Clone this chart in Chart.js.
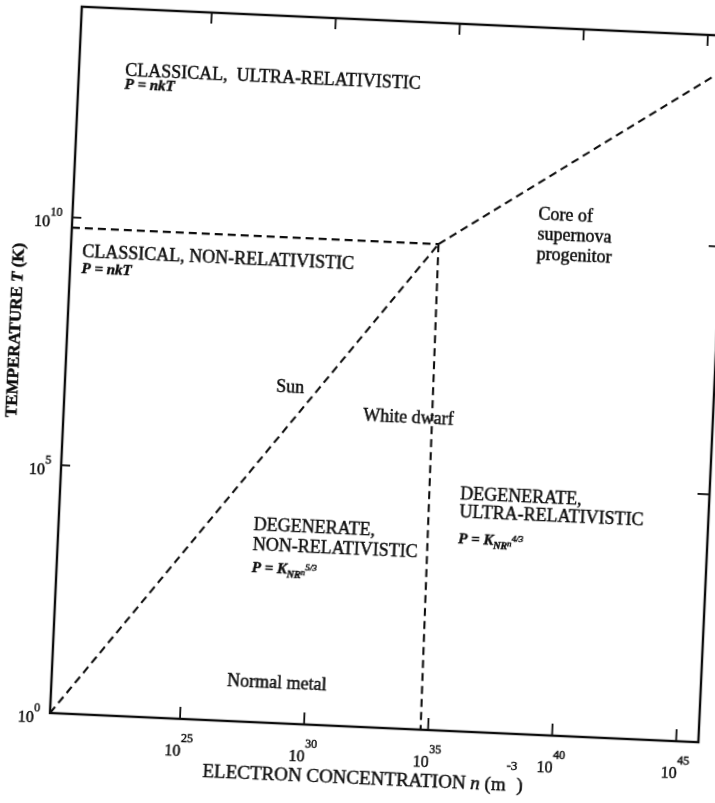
<!DOCTYPE html>
<html>
<head>
<meta charset="utf-8">
<script src="https://cdn.jsdelivr.net/npm/chart.js@4.4.1/dist/chart.umd.min.js"></script>
<style>
  html, body { margin: 0; padding: 0; background: #fff; width: 715px; height: 803px; overflow: hidden; }
  #sheet { position: absolute; left: -20px; top: 0; width: 739px; height: 807px;
           transform-origin: 70px 713px; transform: rotate(2.58deg); }
  canvas { display: block; }
</style>
</head>
<body>
<div id="sheet"><canvas id="chart" width="739" height="807"></canvas></div>
<script>
// Axis ranges: electron concentration n (m^-3) and temperature T (K)
const densityMin = 5.75e19;
const densityMax = 7.9e45;
const tempMin = 1;
const tempMax = 1.78e14;

// Tick values and the exponents printed under them
const densityTicks = [1e25, 1e30, 1e35, 1e40, 1e45];
const densityTickPowers = ['25', '30', '35', '40', '45'];
const tempTicks = [1, 1e5, 1e10];
const tempTickPowers = ['0', '5', '10'];

// Regime boundaries (n in m^-3, T in K)
const relativisticN = [5.75e19, 3.47e34];   // kT = mc^2
const relativisticT = [6.2e9, 6.2e9];
const degenerateNrN = [5.75e19, 3.47e34];   // through the Sun
const degenerateNrT = [1, 6.2e9];
const fermiMomentumN = [3.47e34, 5.0e34];   // p_F = mc, through white dwarfs
const fermiMomentumT = [6.2e9, 1];
const degenerateUrN = [3.47e34, 7.9e45];    // towards supernova cores
const degenerateUrT = [6.2e9, 4.2e13];

const INK = '#0d0d0d';
const SERIF = '"Liberation Serif", "Times New Roman", serif';
const font = (style, size) => `${style} ${size}px ${SERIF}`;

const capsFont = font('normal', 18);
const wordFont = font('normal', 18);
const eqFont = font('bold italic', 15);
const eqSub = font('bold italic', 10);
const eqSmall = font('italic', 9);

const eqNkT = [{ text: 'P = nkT', font: eqFont }];
const eqK = (pow) => [
  { text: 'P = K', font: eqFont },
  { text: 'NR', font: eqSub, rise: -4 },
  { text: 'n', font: eqSmall, rise: -1 },
  { text: pow, font: eqSmall, rise: 4 }
];
const plain = (text, f) => [{ text, font: f || capsFont }];

// Region and object labels, anchored at the first line's baseline (data coordinates)
const notes = [
  { n: 4.2e21, T: 7.9e12, rows: [[0, plain('CLASSICAL,  ULTRA-RELATIVISTIC')], [13, eqNkT]] },
  { n: 1.67e20, T: 1.62e9, rows: [[0, plain('CLASSICAL, NON-RELATIVISTIC')], [16, eqNkT]] },
  { n: 1.86e28, T: 4.7e6, rows: [[0, plain('Sun', wordFont)]] },
  { n: 6.7e31, T: 1.46e6, rows: [[0, plain('White dwarf', wordFont)]] },
  { n: 3.2e38, T: 2.45e10, rows: [[0, plain('Core of', wordFont)], [20, plain('supernova', wordFont)], [40, plain('progenitor', wordFont)]] },
  { n: 4.1e27, T: 7.3e3, rows: [[0, plain('DEGENERATE,')], [20, plain('NON-RELATIVISTIC')], [42, eqK('5/3')]] },
  { n: 7.4e35, T: 4.8e4, rows: [[0, plain('DEGENERATE,')], [18, plain('ULTRA-RELATIVISTIC')], [44, eqK('4/3')]] },
  { n: 6.8e26, T: 5.1, rows: [[0, plain('Normal metal', wordFont)]] }
];

// Draws a row of text runs (with raised/lowered pieces), slightly inked for a printed look
function drawRuns(ctx, x, y, runs, align) {
  let total = 0;
  runs.forEach(r => { ctx.font = r.font; r.w = ctx.measureText(r.text).width; total += r.w; });
  let cx = align === 'right' ? x - total : align === 'center' ? x - total / 2 : x;
  ctx.textAlign = 'left';
  ctx.textBaseline = 'alphabetic';
  ctx.lineWidth = 0.45;
  runs.forEach(r => {
    ctx.font = r.font;
    ctx.fillText(r.text, cx, y - (r.rise || 0));
    ctx.strokeText(r.text, cx, y - (r.rise || 0));
    cx += r.w;
  });
}

function power(exp, rise) {
  return [{ text: '10', font: font('normal', 16) }, { text: exp, font: font('normal', 12), rise }];
}

const pairs = (xs, ys) => xs.map((v, i) => ({ x: v, y: ys[i] }));
const dashed = (xs, ys) => ({
  data: pairs(xs, ys),
  showLine: true,
  borderColor: INK,
  borderWidth: 2.1,
  borderDash: [8, 5],
  pointRadius: 0,
  fill: false
});

const framePlugin = {
  id: 'frame',
  afterDraw(chart) {
    const { ctx, chartArea: a, scales: { x, y } } = chart;
    ctx.save();
    ctx.strokeStyle = INK;
    ctx.fillStyle = INK;
    ctx.lineWidth = 2.4;
    ctx.strokeRect(a.left, a.top, a.right - a.left, a.bottom - a.top);

    const seg = (x1, y1, x2, y2) => { ctx.lineWidth = 1.8; ctx.beginPath(); ctx.moveTo(x1, y1); ctx.lineTo(x2, y2); ctx.stroke(); };
    densityTicks.forEach((v, i) => {
      const px = x.getPixelForValue(v);
      seg(px, a.bottom, px, a.bottom - 12);
      seg(px, a.top, px, a.top + 11);
      drawRuns(ctx, px, a.bottom + 37, power(densityTickPowers[i], 14), 'center');
    });
    tempTicks.forEach((v, i) => {
      const py = y.getPixelForValue(v);
      if (py < a.bottom - 1) {
        seg(a.left, py, a.left + 9, py);
        seg(a.right, py, a.right - 12, py);
      }
      drawRuns(ctx, a.left - 10, py + 10, power(tempTickPowers[i], 11), 'right');
    });

    // Axis titles
    drawRuns(ctx, a.left + 155, a.bottom + 57, [
      { text: 'ELECTRON CONCENTRATION ', font: font('normal', 19) },
      { text: 'n', font: font('italic', 19) },
      { text: ' (m', font: font('normal', 19) },
      { text: '-3', font: font('normal', 13), rise: 21 },
      { text: ')', font: font('normal', 19) }
    ], 'left');

    ctx.save();
    ctx.translate(a.left - 47, a.bottom - 381);
    ctx.rotate(-Math.PI / 2);
    drawRuns(ctx, 0, 0, [
      { text: 'TEMPERATURE ', font: font('bold', 17) },
      { text: 'T', font: font('bold italic', 17) },
      { text: ' (K)', font: font('bold', 17) }
    ], 'center');
    ctx.restore();

    // Region labels
    notes.forEach(note => {
      const px = x.getPixelForValue(note.n);
      const py = y.getPixelForValue(note.T);
      note.rows.forEach(([dy, runs]) => drawRuns(ctx, px, py + dy, runs, 'left'));
    });
    ctx.restore();
  }
};

new Chart(document.getElementById('chart'), {
  type: 'scatter',
  data: {
    datasets: [
      dashed(relativisticN, relativisticT),
      dashed(degenerateNrN, degenerateNrT),
      dashed(fermiMomentumN, fermiMomentumT),
      dashed(degenerateUrN, degenerateUrT)
    ]
  },
  options: {
    responsive: false,
    animation: false,
    devicePixelRatio: 1,
    layout: { padding: { left: 70, right: 20, top: 6, bottom: 94 } },
    plugins: { legend: { display: false }, tooltip: { enabled: false } },
    scales: {
      x: { type: 'logarithmic', min: densityMin, max: densityMax, display: false },
      y: { type: 'logarithmic', min: tempMin, max: tempMax, display: false }
    }
  },
  plugins: [framePlugin]
});
</script>
</body>
</html>
